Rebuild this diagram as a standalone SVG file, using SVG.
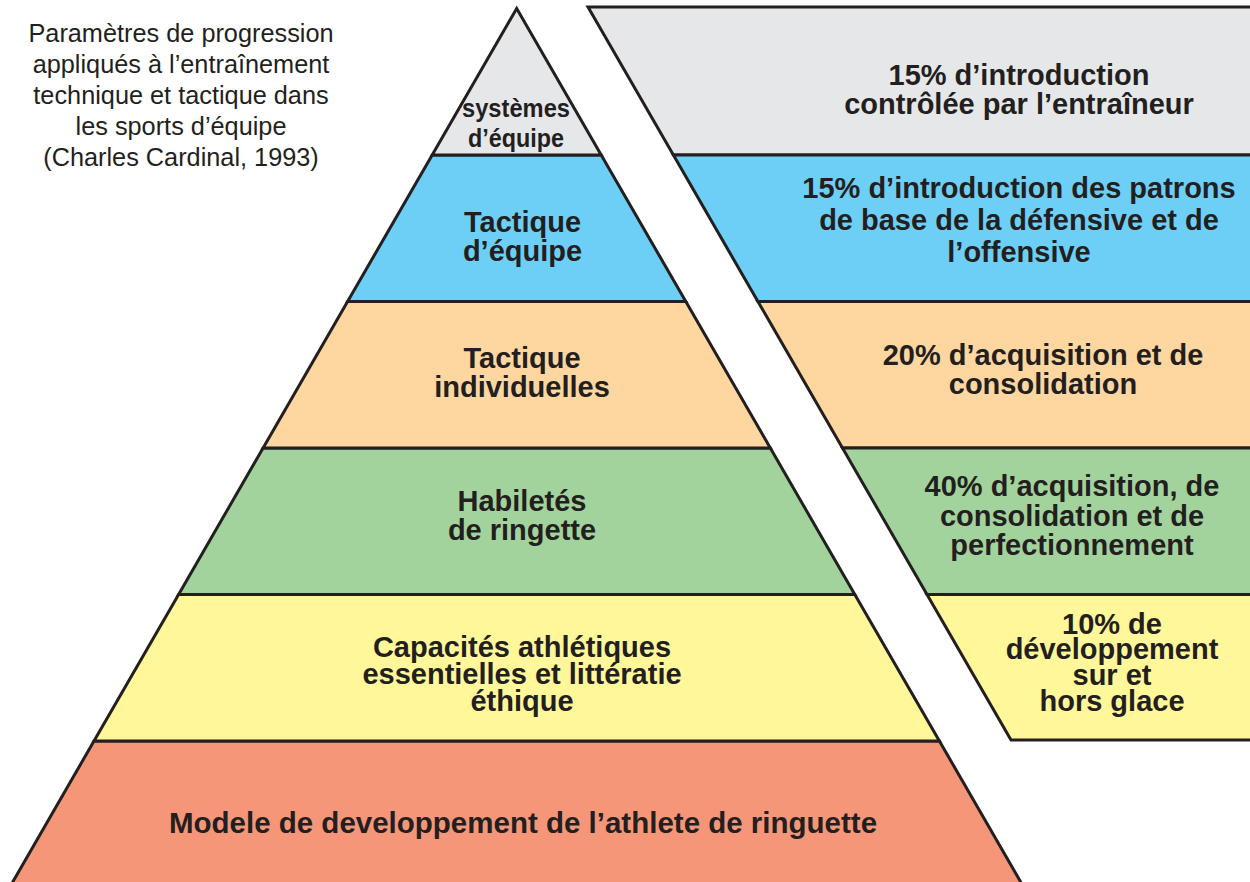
<svg xmlns="http://www.w3.org/2000/svg" width="1250" height="882" viewBox="0 0 1250 882">
<style>
.band{stroke:#231f20;stroke-width:3;stroke-linejoin:miter}
.g{fill:#e6e7e8}.b{fill:#6dcff6}.p{fill:#fdd6a0}.gr{fill:#a3d39c}.y{fill:#fff799}.s{fill:#f69679}
.lbl{font-family:"Liberation Sans",Arial,sans-serif;font-weight:bold;font-size:29px;fill:#231f20;text-anchor:middle}
.title{font-family:"Liberation Sans",Arial,sans-serif;font-size:25.3px;fill:#231f20;text-anchor:middle}
</style>
<rect width="1250" height="882" fill="#ffffff"/>
<g id="title">
<text class="title" x="181" y="41.5">Paramètres de progression</text>
<text class="title" x="181" y="72.5">appliqués à l’entraînement</text>
<text class="title" x="181" y="103.5">technique et tactique dans</text>
<text class="title" x="181" y="134.5">les sports d’équipe</text>
<text class="title" x="181" y="165.5">(Charles Cardinal, 1993)</text>
</g>
<g id="pyr-salmon">
<polygon class="band s" points="94,741 939.4,741 1025.3,890 8.1,890"/>
<text class="lbl" x="523" y="833" style="font-size:29.5px">Modele de developpement de l’athlete de ringuette</text>
</g>
<g id="pyr-yellow">
<polygon class="band y" points="178.6,594.5 854.8,594.5 939.4,741 94,741"/>
<text class="lbl" x="522" y="656.5">Capacités athlétiques</text>
<text class="lbl" x="522" y="683.5">essentielles et littératie</text>
<text class="lbl" x="522" y="710.5">éthique</text>
</g>
<g id="pyr-green">
<polygon class="band gr" points="263.1,448 770.3,448 854.8,594.5 178.6,594.5"/>
<text class="lbl" x="522" y="511">Habiletés</text>
<text class="lbl" x="522" y="540">de ringette</text>
</g>
<g id="pyr-peach">
<polygon class="band p" points="347.6,301.5 685.8,301.5 770.3,448 263.1,448"/>
<text class="lbl" x="522" y="368">Tactique</text>
<text class="lbl" x="522" y="397">individuelles</text>
</g>
<g id="pyr-blue">
<polygon class="band b" points="432.2,155 601.2,155 685.8,301.5 347.6,301.5"/>
<text class="lbl" x="522.5" y="232">Tactique</text>
<text class="lbl" x="522.5" y="260.5">d’équipe</text>
</g>
<g id="pyr-gray">
<polygon class="band g" points="516.7,8.5 601.2,155 432.2,155"/>
<text class="lbl" x="516" y="116.5" style="font-size:25px" textLength="108" lengthAdjust="spacingAndGlyphs">systèmes</text>
<text class="lbl" x="516" y="146.5" style="font-size:25px" textLength="96" lengthAdjust="spacingAndGlyphs">d’équipe</text>
</g>
<g id="panel-gray">
<polygon class="band g" points="588,7 1256,7 1256,155 673.4,155"/>
<text class="lbl" x="1019" y="85">15% d’introduction</text>
<text class="lbl" x="1019" y="113.5">contrôlée par l’entraîneur</text>
</g>
<g id="panel-blue">
<polygon class="band b" points="673.4,155 1256,155 1256,301.5 757.9,301.5"/>
<text class="lbl" x="1019" y="198">15% d’introduction des patrons</text>
<text class="lbl" x="1019" y="230">de base de la défensive et de</text>
<text class="lbl" x="1019" y="261.5">l’offensive</text>
</g>
<g id="panel-peach">
<polygon class="band p" points="757.9,301.5 1256,301.5 1256,448 842.5,448"/>
<text class="lbl" x="1043" y="365">20% d’acquisition et de</text>
<text class="lbl" x="1043" y="393.5">consolidation</text>
</g>
<g id="panel-green">
<polygon class="band gr" points="842.5,448 1256,448 1256,594.5 927,594.5"/>
<text class="lbl" x="1072" y="496">40% d’acquisition, de</text>
<text class="lbl" x="1072" y="526">consolidation et de</text>
<text class="lbl" x="1072" y="555">perfectionnement</text>
</g>
<g id="panel-yellow">
<polygon class="band y" points="927,594.5 1256,594.5 1256,740 1011,740"/>
<text class="lbl" x="1112" y="633.5">10% de</text>
<text class="lbl" x="1112" y="659">développement</text>
<text class="lbl" x="1112" y="685">sur et</text>
<text class="lbl" x="1112" y="710.5">hors glace</text>
</g>
<g id="connectors"></g>
</svg>
